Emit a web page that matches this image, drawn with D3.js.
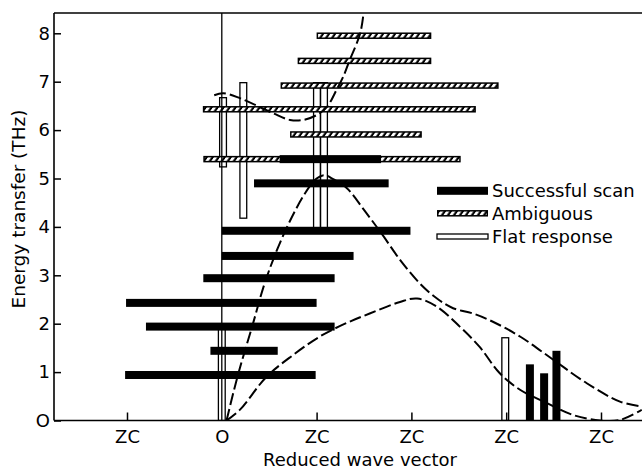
<!DOCTYPE html>
<html><head><meta charset="utf-8">
<script src="https://cdn.jsdelivr.net/npm/d3@7"></script>
<style>body{margin:0;background:#fff}</style>
</head><body>
<script>
// ---- data ----
const xTickValues = [-1, 0, 1, 2, 3, 4];
const xTickLabels = ["ZC", "O", "ZC", "ZC", "ZC", "ZC"];
const yTickValues = [0, 1, 2, 3, 4, 5, 6, 7, 8];
const yTickLabels = ["O", "1", "2", "3", "4", "5", "6", "7", "8"];

// horizontal "Ambiguous" scans (energy, q from, q to)
const ambE    = [7.95, 7.43, 6.92, 6.43, 5.91, 5.40];
const ambFrom = [1.00, 0.80, 0.62, -0.20, 0.72, -0.195];
const ambTo   = [2.21, 2.21, 2.92, 2.68, 2.11, 2.52];

// horizontal "Successful scan"
const sucE    = [5.40, 4.90, 3.92, 3.40, 2.94, 2.43, 1.94, 1.44, 0.94];
const sucFrom = [0.61, 0.34, 0.00, 0.00, -0.195, -1.01, -0.80, -0.12, -1.02];
const sucTo   = [1.68, 1.76, 1.99, 1.39, 1.19, 1.00, 1.19, 0.59, 0.99];

// vertical "Successful scan" (q, energy up to)
const vSucQ  = [3.25, 3.40, 3.53];
const vSucTo = [1.16, 0.975, 1.44];

// vertical "Flat response" (q, energy from, energy to)
const flatQ    = [0.013, 0.227, 1.004, 1.078, 2.99, 0.0];
const flatFrom = [5.24, 4.18, 3.92, 3.92, 0.0, 0.0];
const flatTo   = [6.67, 6.98, 6.98, 6.98, 1.71, 1.95];

// dispersion curves (dashed)
const upperQ = [0.05, 0.17, 0.32, 0.47, 0.67, 0.88, 1.00, 1.08, 1.18, 1.32, 1.50, 1.69, 1.88, 2.09, 2.27, 2.44, 2.65, 2.86, 3.15, 3.50, 3.85, 4.20, 4.43];
const upperE = [0.00, 0.94, 1.94, 2.94, 3.92, 4.70, 5.00, 5.07, 4.98, 4.80, 4.35, 3.85, 3.32, 2.83, 2.52, 2.32, 2.21, 2.04, 1.73, 1.25, 0.77, 0.39, 0.29];
const lowerQ = [0.05, 0.19, 0.47, 0.75, 1.03, 1.30, 1.56, 1.88, 2.06, 2.27, 2.51, 2.72, 2.93, 3.15, 3.43, 3.71, 3.99, 4.20, 4.43];
const lowerE = [0.00, 0.22, 0.90, 1.35, 1.73, 2.00, 2.21, 2.45, 2.52, 2.35, 1.94, 1.52, 0.98, 0.63, 0.36, 0.11, 0.00, 0.01, 0.22];
const opticQ = [-0.08, 0.016, 0.19, 0.54, 0.72, 0.86, 1.00, 1.11, 1.21, 1.28, 1.35, 1.46, 1.50];
const opticE = [6.72, 6.76, 6.66, 6.35, 6.21, 6.21, 6.31, 6.48, 6.83, 7.10, 7.45, 8.00, 8.50];

const legendLabels = ["Successful scan", "Ambiguous", "Flat response"];
const xTitle = "Reduced wave vector";
const yTitle = "Energy transfer (THz)";

// ---- layout ----
const W = 642, H = 469;
const L = 54, R = 642, T = 13, B = 420.5;
const FONT = "'DejaVu Sans', sans-serif";

const svg = d3.select("body").append("svg").attr("width", W).attr("height", H)
  .style("background", "#fff");

const x = d3.scaleLinear().domain([-1, 4]).range([127, 601]);
const y = d3.scaleLinear().domain([0, 8]).range([B, 33.3]);

const defs = svg.append("defs");
defs.append("clipPath").attr("id", "plotclip").append("rect")
  .attr("x", L).attr("y", T).attr("width", R - L).attr("height", B - T);
const pat = defs.append("pattern").attr("id", "hatch").attr("patternUnits", "userSpaceOnUse")
  .attr("width", 6).attr("height", 20).attr("patternTransform", "skewX(-35)");
pat.append("rect").attr("width", 6).attr("height", 20).attr("fill", "#000");
pat.append("rect").attr("x", 0).attr("width", 3.4).attr("height", 20).attr("fill", "#fff");

const plot = svg.append("g").attr("clip-path", "url(#plotclip)");

// frame
const frame = svg.append("g").attr("stroke", "#000").attr("stroke-width", 1.6);
frame.append("line").attr("x1", L).attr("x2", L).attr("y1", T).attr("y2", B);
frame.append("line").attr("x1", L).attr("x2", R).attr("y1", T).attr("y2", T);
frame.append("line").attr("x1", L).attr("x2", R).attr("y1", B).attr("y2", B);
frame.append("line").attr("x1", x(0)).attr("x2", x(0)).attr("y1", T).attr("y2", B).attr("stroke-width", 1.3);

// flat response bars (hollow)
const FW = 6.8;
plot.append("g").selectAll("rect").data(flatQ).join("rect")
  .attr("x", d => x(d) - FW / 2).attr("width", FW)
  .attr("y", (d, i) => y(flatTo[i])).attr("height", (d, i) => y(flatFrom[i]) - y(flatTo[i]))
  .attr("fill", "#fff").attr("stroke", "#000").attr("stroke-width", 1.3);

// ambiguous bars
function hatchBar(g, x0, x1, yc, h) {
  g.append("rect").attr("x", x0).attr("y", yc - h / 2).attr("width", x1 - x0).attr("height", h).attr("fill", "#000");
  g.append("rect").attr("x", x0 + 1.5).attr("y", yc - h / 2 + 1.5).attr("width", x1 - x0 - 3).attr("height", h - 3).attr("fill", "url(#hatch)");
}
const ambG = plot.append("g");
ambE.forEach((e, i) => hatchBar(ambG, x(ambFrom[i]), x(ambTo[i]), y(e), 6.5));

// successful bars
plot.append("g").selectAll("rect").data(sucE).join("rect")
  .attr("x", (d, i) => x(sucFrom[i])).attr("width", (d, i) => x(sucTo[i]) - x(sucFrom[i]))
  .attr("y", d => y(d) - 4).attr("height", 8).attr("fill", "#000");
const VW = 8;
plot.append("g").selectAll("rect").data(vSucQ).join("rect")
  .attr("x", d => x(d) - VW / 2).attr("width", VW)
  .attr("y", (d, i) => y(vSucTo[i])).attr("height", (d, i) => y(0) - y(vSucTo[i]))
  .attr("fill", "#000");

// curves
const line = d3.line().x(d => x(d[0])).y(d => y(d[1])).curve(d3.curveCatmullRom.alpha(0.5));
[[upperQ, upperE], [lowerQ, lowerE], [opticQ, opticE]].forEach(([qs, es]) => {
  plot.append("path").datum(qs.map((q, i) => [q, es[i]]))
    .attr("d", line).attr("fill", "none").attr("stroke", "#000")
    .attr("stroke-width", 2).attr("stroke-dasharray", "12,4");
});

// axes
const xAxis = svg.append("g").attr("transform", `translate(0,${B})`)
  .call(d3.axisBottom(x).tickValues(xTickValues).tickFormat((d, i) => xTickLabels[i])
    .tickSizeInner(-8).tickSizeOuter(0).tickPadding(10));
xAxis.select(".domain").remove();
xAxis.selectAll(".tick").filter(d => d === 0).select("line").remove();
xAxis.attr("font-family", FONT).attr("font-size", 18);
xAxis.selectAll("line").attr("stroke-width", 1.5);

const yAxis = svg.append("g").attr("transform", `translate(${L},0)`)
  .call(d3.axisLeft(y).tickValues(yTickValues).tickFormat((d, i) => yTickLabels[i])
    .tickSizeInner(-7).tickSizeOuter(0).tickPadding(4));
yAxis.select(".domain").remove();
yAxis.attr("font-family", FONT).attr("font-size", 18);
yAxis.selectAll("line").attr("stroke-width", 1.5);

// titles
svg.append("text").attr("x", 360).attr("y", 466).attr("text-anchor", "middle")
  .attr("font-family", FONT).attr("font-size", 18).text(xTitle);
svg.append("text").attr("transform", "translate(25,209) rotate(-90)").attr("text-anchor", "middle")
  .attr("font-family", FONT).attr("font-size", 18.5).text(yTitle);

// legend
const lg = svg.append("g");
const lx0 = 437, lx1 = 488, ly = [190.8, 213.3, 236.5];
lg.append("rect").attr("x", lx0).attr("y", ly[0] - 4).attr("width", lx1 - lx0).attr("height", 8).attr("fill", "#000");
hatchBar(lg, lx0, lx1, ly[1], 6.5);
lg.append("rect").attr("x", lx0).attr("y", ly[2] - 2.5).attr("width", lx1 - lx0).attr("height", 5)
  .attr("fill", "#fff").attr("stroke", "#000").attr("stroke-width", 1.3);
lg.selectAll("text").data(legendLabels).join("text")
  .attr("x", 492).attr("y", (d, i) => ly[i] + 6.3)
  .attr("font-family", FONT).attr("font-size", 18).text(d => d);
</script>
</body></html>
